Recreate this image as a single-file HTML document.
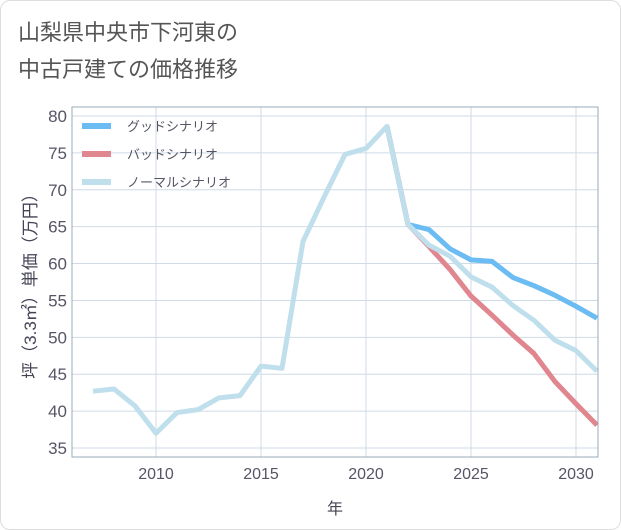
<!DOCTYPE html>
<html><head><meta charset="utf-8"><style>
body{margin:0;background:#fff;font-family:"Liberation Sans","Noto Sans CJK JP",sans-serif}
#wrap{position:relative;width:619px;height:528px;border:1px solid #ddd;border-radius:10px;background:#fff}
</style></head><body>
<div id="wrap">
<svg id="svg" width="621" height="530" style="position:absolute;left:-1px;top:-1px">
<text x="18" y="40" font-size="22" fill="#555">山梨県中央市下河東の</text>
<text x="18" y="77" font-size="22" fill="#555">中古戸建ての価格推移</text>
<g id="grid"></g><g id="lines"></g>
<rect x="72" y="107" width="526" height="350" fill="none" stroke="#9aa8b8" stroke-width="1"/>
<text transform="translate(36,282) rotate(-90)" text-anchor="middle" font-size="17" fill="#445">坪（3.3㎡）単価（万円）</text>
<text x="335" y="514" text-anchor="middle" font-size="16" fill="#445">年</text>
<g id="legend"></g>
</svg></div>
<script>
const years=[2007,2008,2009,2010,2011,2012,2013,2014,2015,2016,2017,2018,2019,2020,2021,2022,2023,2024,2025,2026,2027,2028,2029,2030,2031];
const normal=[42.7,43.0,40.7,37.0,39.8,40.2,41.8,42.1,46.1,45.8,63.0,69.0,74.8,75.6,78.6,65.3,62.5,61.0,58.2,56.8,54.3,52.3,49.6,48.2,45.4];
const fYears=[2021,2022,2023,2024,2025,2026,2027,2028,2029,2030,2031];
const good=[78.6,65.3,64.6,62.0,60.5,60.3,58.1,57.0,55.7,54.2,52.6];
const bad=[78.6,65.3,62.3,59.2,55.6,53.0,50.3,47.8,44.0,41.0,38.1];
const yTicks=[35,40,45,50,55,60,65,70,75,80];
const xTicks=[2010,2015,2020,2025,2030];
const X=y=>156+(y-2010)*21;
const Y=v=>116+(80-v)*(332/45);
const NS='http://www.w3.org/2000/svg';
function mk(t,a,p){const e=document.createElementNS(NS,t);for(const k in a)e.setAttribute(k,a[k]);p.appendChild(e);return e;}
const grid=document.getElementById('grid');
yTicks.forEach(v=>{
 const l=mk('line',{x1:72,x2:598,y1:Y(v),y2:Y(v),stroke:'#cfdbe6','stroke-width':1},grid);
 
 
 const t=mk('text',{x:67,y:Y(v)+6,'text-anchor':'end','font-size':17,fill:'#556'},grid);
 t.textContent=v;
 
 
});
xTicks.forEach(v=>{
 const l=mk('line',{x1:X(v),x2:X(v),y1:107,y2:457,stroke:'#cfdbe6','stroke-width':1},grid);
 
 
 const t=mk('text',{x:X(v),y:479,'text-anchor':'middle','font-size':16,fill:'#556'},grid);
 t.textContent=v;
 
 
});
const lines=document.getElementById('lines');
function path(xs,vs,c,n){
 const p=mk('polyline',{points:xs.map((y,i)=>X(y)+','+Y(vs[i])).join(' '),fill:'none',stroke:c,'stroke-width':5,'stroke-linejoin':'round'},lines);
 
 
}
path(fYears,good,'#6bbcf2','good-scenario-line');
path(fYears,bad,'#e0868f','bad-scenario-line');
path(years,normal,'#c0dfec','normal-scenario-line');
const lg=document.getElementById('legend');
[['グッドシナリオ','#6bbcf2'],['バッドシナリオ','#e0868f'],['ノーマルシナリオ','#c0dfec']].forEach((d,i)=>{
 const y=126+i*28;
 const l=mk('line',{x1:82,x2:111,y1:y,y2:y,stroke:d[1],'stroke-width':6},lg);
 
 
 const t=mk('text',{x:127,y:y+5,'font-size':13,fill:'#556'},lg);
 t.textContent=d[0];
 
 
});
</script>
</body></html>
